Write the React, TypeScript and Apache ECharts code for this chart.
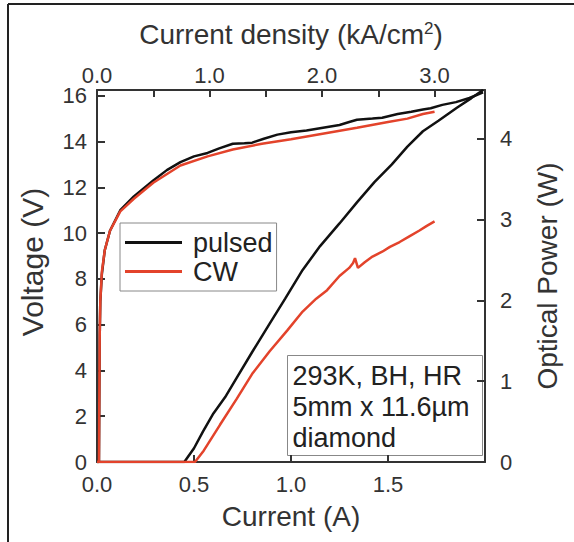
import React, { useEffect, useRef } from "react";
import * as echarts from "echarts";

// Current (A) vs Voltage (V) and Optical power (W)
const pulsedVoltage: [number, number][] = [
  [0, 0], [0.01, 0], [0.012, 3], [0.014, 5.5], [0.017, 7], [0.025, 8.2], [0.04, 9.25],
  [0.067, 10.1], [0.12, 11.0], [0.19, 11.6], [0.29, 12.3], [0.36, 12.75], [0.43, 13.1],
  [0.5, 13.35], [0.57, 13.5], [0.63, 13.7], [0.7, 13.9], [0.76, 13.92], [0.8, 13.95],
  [0.86, 14.12], [0.93, 14.3], [1.0, 14.4], [1.08, 14.48], [1.165, 14.6], [1.25, 14.72],
  [1.3, 14.85], [1.34, 14.95], [1.42, 15.0], [1.47, 15.04], [1.55, 15.2], [1.62, 15.3],
  [1.68, 15.4], [1.72, 15.45], [1.78, 15.6], [1.85, 15.72], [1.92, 15.9], [1.99, 16.15],
];
const cwVoltage: [number, number][] = [
  [0, 0], [0.01, 0], [0.012, 3], [0.014, 5.5], [0.017, 7], [0.025, 8.3], [0.04, 9.25],
  [0.067, 10.1], [0.12, 10.95], [0.19, 11.5], [0.29, 12.2], [0.43, 12.95], [0.57, 13.35],
  [0.7, 13.65], [0.85, 13.9], [1.0, 14.1], [1.17, 14.35], [1.34, 14.6], [1.5, 14.85],
  [1.6, 15.0], [1.68, 15.2], [1.74, 15.3],
];
const pulsedPower: [number, number][] = [
  [0, 0], [0.45, 0], [0.5, 0.17], [0.546, 0.375], [0.6, 0.6], [0.66, 0.8], [0.72, 1.04],
  [0.8, 1.36], [0.89, 1.71], [0.97, 2.02], [1.06, 2.375], [1.15, 2.67], [1.25, 2.95],
  [1.34, 3.21], [1.43, 3.46], [1.52, 3.68], [1.6, 3.9], [1.68, 4.09], [1.76, 4.22],
  [1.855, 4.38], [1.93, 4.5], [1.99, 4.6],
];
const cwPower: [number, number][] = [
  [0, 0], [0.505, 0], [0.55, 0.14], [0.634, 0.46], [0.72, 0.78], [0.8, 1.09], [0.89, 1.37],
  [0.98, 1.625], [1.06, 1.86], [1.13, 2.02], [1.186, 2.125], [1.25, 2.3], [1.3, 2.4],
  [1.32, 2.46], [1.33, 2.52], [1.345, 2.4], [1.38, 2.47], [1.42, 2.54], [1.47, 2.6],
  [1.51, 2.66], [1.56, 2.72], [1.61, 2.79], [1.66, 2.86], [1.7, 2.92], [1.74, 2.975],
];

const seriesNames = ["pulsed", "CW"];
const annotationLines = ["293K, BH, HR", "5mm x 11.6µm", "diamond"];

const currentMax = 2.0; // A
const voltageMax = 16.25; // V
const powerMax = 4.6; // W
const currentPerDensity = 0.58; // A per kA/cm^2 (5mm x 11.6µm)
const densityMax = currentMax / currentPerDensity;

const FONT = "'Liberation Sans', Arial, Helvetica, sans-serif";
const AX = "#333";
const BLACK = "#111";
const RED = "#e3432b";

export default function App() {
  const ref = useRef<HTMLDivElement>(null);
  useEffect(() => {
    if (!ref.current) return;
    const chart = echarts.init(ref.current, undefined, { renderer: "svg" });
    const axisLine = { show: true, onZero: false, lineStyle: { color: AX, width: 2 } };
    const axisTick = { show: true, inside: true, length: 7, lineStyle: { color: AX, width: 2 } };
    const tickLabel = { fontSize: 22, color: AX, fontFamily: FONT };
    const nameStyle = { fontSize: 28, color: AX, fontFamily: FONT };
    chart.setOption({
      animation: false,
      backgroundColor: "#fff",
      textStyle: { fontFamily: FONT },
      grid: { left: 97, right: 89, top: 90, bottom: 80, containLabel: false },
      legend: {
        data: seriesNames,
        orient: "vertical",
        left: 120,
        top: 223,
        icon: "rect",
        itemWidth: 57,
        itemHeight: 3,
        itemGap: 2,
        padding: [6, 4, 6, 5],
        borderColor: "#888",
        borderWidth: 1,
        backgroundColor: "#fff",
        textStyle: { fontSize: 27, color: "#222", fontFamily: FONT, lineHeight: 27, padding: [0, 0, 0, 6] },
      },
      xAxis: [
        {
          type: "value",
          position: "bottom",
          min: 0,
          max: currentMax,
          interval: 0.5,
          axisLine,
          axisTick,
          splitLine: { show: false },
          axisLabel: { ...tickLabel, margin: 11, showMaxLabel: false, formatter: (v: number) => v.toFixed(1) },
          name: "Current (A)",
          nameLocation: "middle",
          nameGap: 40,
          nameTextStyle: nameStyle,
        },
        {
          type: "value",
          position: "top",
          min: 0,
          max: densityMax,
          interval: 0.5,
          axisLine,
          axisTick,
          splitLine: { show: false },
          axisLabel: {
            ...tickLabel,
            margin: 4,
            formatter: (v: number) => (Math.abs(v - Math.round(v)) < 1e-6 ? v.toFixed(1) : ""),
          },
          name: "Current density (kA/cm{sup|2})",
          nameLocation: "middle",
          nameGap: 42,
          nameTextStyle: {
            ...nameStyle,
            rich: { sup: { fontSize: 17, color: AX, fontFamily: FONT, verticalAlign: "top", lineHeight: 28 } },
          },
        },
      ],
      yAxis: [
        {
          type: "value",
          position: "left",
          min: 0,
          max: voltageMax,
          interval: 2,
          axisLine,
          axisTick: { ...axisTick, length: 8 },
          splitLine: { show: false },
          axisLabel: {
            ...tickLabel,
            margin: 10,
            formatter: (v: number) => (Math.abs(v / 2 - Math.round(v / 2)) < 1e-6 ? String(v) : ""),
          },
          name: "Voltage (V)",
          nameLocation: "middle",
          nameGap: 50,
          nameTextStyle: { ...nameStyle, fontSize: 30, padding: [0, 0, 0, 28] },
        },
        {
          type: "value",
          position: "right",
          min: 0,
          max: powerMax,
          interval: 1,
          axisLine,
          axisTick: { ...axisTick, length: 8 },
          splitLine: { show: false },
          axisLabel: {
            ...tickLabel,
            margin: 15,
            formatter: (v: number) => (Math.abs(v - Math.round(v)) < 1e-6 ? String(v) : ""),
          },
          name: "Optical Power (W)",
          nameLocation: "middle",
          nameGap: 48,
          nameTextStyle: nameStyle,
        },
      ],
      series: [
        {
          name: "pulsed", type: "line", xAxisIndex: 0, yAxisIndex: 0, data: pulsedVoltage,
          showSymbol: false, symbol: "none", lineStyle: { color: BLACK, width: 2.5 }, itemStyle: { color: BLACK }, z: 3,
        },
        {
          name: "pulsed", type: "line", xAxisIndex: 0, yAxisIndex: 1, data: pulsedPower,
          showSymbol: false, symbol: "none", lineStyle: { color: BLACK, width: 2.5 }, itemStyle: { color: BLACK }, z: 3,
        },
        {
          name: "CW", type: "line", xAxisIndex: 0, yAxisIndex: 0, data: cwVoltage,
          showSymbol: false, symbol: "none", lineStyle: { color: RED, width: 2.5 }, itemStyle: { color: RED }, z: 4,
        },
        {
          name: "CW", type: "line", xAxisIndex: 0, yAxisIndex: 1, data: cwPower,
          showSymbol: false, symbol: "none", lineStyle: { color: RED, width: 2.5 }, itemStyle: { color: RED }, z: 4,
        },
      ],
      graphic: [
        { type: "line", shape: { x1: 8, y1: 4, x2: 574, y2: 4 }, style: { stroke: "#222", lineWidth: 2 } },
        { type: "line", shape: { x1: 8, y1: 4, x2: 8, y2: 542 }, style: { stroke: "#222", lineWidth: 2 } },
        {
          type: "group",
          left: 287,
          top: 355,
          children: [
            { type: "rect", shape: { x: 0, y: 0, width: 195, height: 100 }, style: { fill: "#fff", stroke: "#888", lineWidth: 1 } },
            {
              type: "text",
              x: 5,
              y: 5,
              style: {
                text: annotationLines.join("\n"),
                font: `27px ${FONT}`,
                fill: "#222",
                lineHeight: 31,
                verticalAlign: "top",
              },
            },
          ],
        },
      ],
    });
    return () => chart.dispose();
  }, []);
  return <div ref={ref} style={{ position: "fixed", left: 0, top: 0, width: 574, height: 542 }} />;
}
